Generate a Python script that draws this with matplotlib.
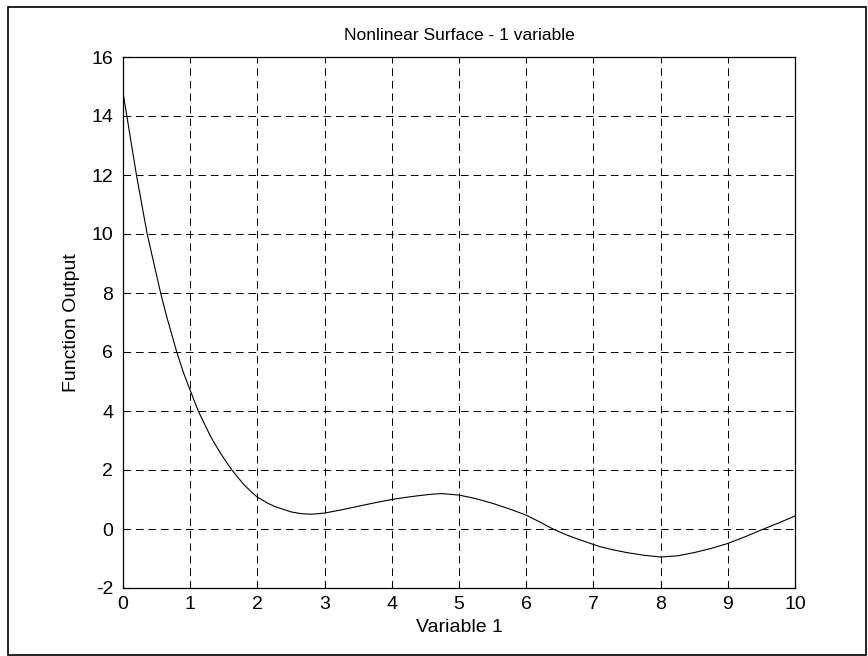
import matplotlib
matplotlib.use("Agg")
import matplotlib.pyplot as plt
from matplotlib.patches import Rectangle

plt.rcParams['font.family'] = ['Liberation Sans', 'DejaVu Sans']
plt.rcParams['lines.scale_dashes'] = False
plt.rcParams['axes.unicode_minus'] = False

# Data
x_vals = [0.0, 0.05, 0.1, 0.2, 0.36, 0.56, 0.65, 0.8, 0.9, 1.0, 1.12, 1.3, 1.4,
          1.5, 1.62, 1.8, 1.9, 2.0, 2.15, 2.25, 2.5, 2.65, 2.8, 3.0, 3.25, 3.5,
          3.75, 4.0, 4.2, 4.4, 4.6, 4.75, 5.0, 5.25, 5.5, 5.75, 6.0, 6.2, 6.4,
          6.6, 6.8, 7.1, 7.3, 7.5, 7.75, 8.0, 8.25, 8.5, 8.75, 9.0, 9.25, 9.5,
          9.75, 10.0]
y_vals = [14.8, 14.1, 13.4, 12.0, 10.0, 8.0, 7.2, 6.0, 5.3, 4.7, 4.0, 3.15, 2.76,
          2.4, 2.0, 1.5, 1.28, 1.08, 0.88, 0.77, 0.58, 0.52, 0.50, 0.54, 0.65, 0.77,
          0.89, 1.0, 1.07, 1.13, 1.18, 1.20, 1.15, 1.03, 0.87, 0.68, 0.47, 0.24, 0.0,
          -0.2, -0.37, -0.60, -0.71, -0.80, -0.89, -0.95, -0.91, -0.80, -0.66, -0.49,
          -0.27, -0.03, 0.2, 0.44]

x_ticks = [0, 1, 2, 3, 4, 5, 6, 7, 8, 9, 10]
y_ticks = [-2, 0, 2, 4, 6, 8, 10, 12, 14, 16]

title_text = "Nonlinear Surface - 1 variable"
x_label = "Variable 1"
y_label = "Function Output"

W, H = 868, 656
fig = plt.figure(figsize=(W / 100, H / 100), dpi=100)
fig.patch.set_facecolor('white')

# outer frame
fig.patches.append(Rectangle((8 / W, 1 - 655 / H), (866 - 8) / W, (655 - 7) / H,
                             transform=fig.transFigure, fill=False,
                             edgecolor='black', linewidth=1.2))

ax = fig.add_axes([123 / W, 1 - 588 / H, 672 / W, 531 / H])
ax.plot(x_vals, y_vals, color='black', linewidth=0.8)

ax.set_xlim(0, 10)
ax.set_ylim(-2, 16)
ax.set_xticks(x_ticks)
ax.set_yticks(y_ticks)
ax.grid(True, color='black', linewidth=0.7, linestyle=(0, (5.5, 3.5)))
ax.set_axisbelow(True)

for s in ax.spines.values():
    s.set_linewidth(0.9)
    s.set_color('black')

ax.tick_params(direction='in', length=4, width=0.8, labelsize=14, pad=7,
               top=False, right=False, colors='black')
ax.tick_params(axis='x', pad=6)

ax.set_title(title_text, fontsize=12.5, pad=12)
ax.set_xlabel(x_label, fontsize=14, labelpad=4)
ax.set_ylabel(y_label, fontsize=14, labelpad=8)

fig.savefig("out.png", dpi=100, facecolor='white')
